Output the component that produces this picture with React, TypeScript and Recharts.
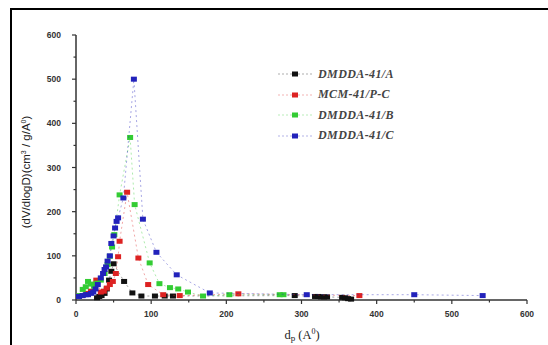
import React from "react";
import { ScatterChart, Scatter, XAxis, YAxis } from "recharts";

// pore size distribution
const seriesNames = ["DMDDA-41/A", "MCM-41/P-C", "DMDDA-41/B", "DMDDA-41/C"];
const seriesColors = ["#111111", "#dd2222", "#33cc33", "#2222bb"];

const blackX = [28, 31, 34, 38, 41, 44, 47, 50, 64, 75, 87, 105, 118, 129, 291, 318, 322, 326, 330, 334, 354, 358, 362, 366];
const blackY = [5, 8, 10, 15, 25, 45, 65, 82, 42, 16, 9, 9, 9, 9, 10, 8, 8, 7, 7, 7, 6, 5, 3, 2];

const redX = [8, 14, 20, 27, 33, 37, 41, 45, 49, 53, 56, 58, 68, 83, 96, 116, 138, 216, 377];
const redY = [10, 15, 20, 45, 18, 20, 27, 35, 42, 60, 98, 133, 244, 95, 35, 12, 10, 14, 10];

const greenX = [5, 9, 13, 16, 20, 24, 28, 33, 38, 42, 45, 48, 51, 58, 72, 78, 98, 111, 125, 136, 149, 169, 204, 271, 276];
const greenY = [10, 24, 30, 42, 36, 31, 38, 45, 60, 80, 99, 120, 148, 238, 368, 216, 84, 37, 28, 25, 18, 9, 12, 12, 12];

const blueX = [4, 9, 13, 16, 20, 23, 26, 29, 33, 36, 38, 40, 42, 45, 47, 50, 52, 54, 56, 63, 77, 89, 107, 134, 178, 307, 450, 541];
const blueY = [8, 10, 12, 12, 15, 18, 25, 35, 50, 60, 69, 75, 88, 100, 128, 145, 163, 178, 186, 231, 500, 183, 108, 57, 16, 12, 12, 10];

const xTicks = [0, 50, 100, 150, 200, 250, 300, 350, 400, 450, 500, 550, 600];
const yTicks = [0, 50, 100, 150, 200, 250, 300, 350, 400, 450, 500, 550, 600];

const pairs = (xs: number[], ys: number[]) => xs.map((x, i) => ({ x, y: ys[i] }));
const allSeries = [
  pairs(blackX, blackY),
  pairs(redX, redY),
  pairs(greenX, greenY),
  pairs(blueX, blueY),
];

const axisColor = "#333";
const tickFont = "'Liberation Sans', Arial, sans-serif";

const XTick = (props: any) => {
  const { x, y, payload } = props;
  const major = payload.value % 100 === 0;
  return (
    <g>
      <line x1={x} x2={x} y1={y} y2={y + (major ? 4 : 2.5)} stroke={axisColor} strokeWidth={1.2} />
      {major && (
        <text x={x} y={y + 17} textAnchor="middle" fontSize={8.5} fontWeight="bold" fill="#333" fontFamily={tickFont}>
          {payload.value}
        </text>
      )}
    </g>
  );
};

const YTick = (props: any) => {
  const { x, y, payload } = props;
  const major = payload.value % 100 === 0;
  return (
    <g>
      <line x1={x} x2={x - (major ? 4 : 2.5)} y1={y} y2={y} stroke={axisColor} strokeWidth={1.2} />
      {major && (
        <text x={x - 15} y={y + 3} textAnchor="end" fontSize={8.5} fontWeight="bold" fill="#333" fontFamily={tickFont}>
          {payload.value}
        </text>
      )}
    </g>
  );
};

const XTitle = () => (
  <text x={302} y={339} textAnchor="middle" fontSize={12.5} fill="#222" fontFamily="'Liberation Serif', serif">
    d<tspan fontSize={9} dy={2}>p</tspan>
    <tspan dy={-2}> (A</tspan>
    <tspan fontSize={8} dy={-5}>0</tspan>
    <tspan dy={5}>)</tspan>
  </text>
);

const YTitle = () => (
  <text
    transform="translate(30,172) rotate(-90)"
    textAnchor="middle"
    fontSize={11.5}
    fill="#222"
    fontFamily="'Liberation Sans', Arial, sans-serif"
  >
    (dV/dlogD)(cm<tspan fontSize={7} dy={-4}>3</tspan>
    <tspan dy={4}> / g/A</tspan>
    <tspan fontSize={7} dy={-4}>0</tspan>
    <tspan dy={4}>)</tspan>
  </text>
);

const square = (color: string) => (p: any) => (
  <rect x={p.cx - 3} y={p.cy - 2.5} width={6} height={5} fill={color} />
);

const LegendBox = () => (
  <div style={{ position: "absolute", left: 278, top: 64, display: "flex", flexDirection: "column" }}>
    {seriesNames.map((name, i) => (
      <div key={name} style={{ display: "flex", alignItems: "center", height: 20.5 }}>
        <svg width={34} height={10}>
          <line x1={0} x2={34} y1={5} y2={5} stroke={seriesColors[i]} strokeOpacity={0.35} strokeDasharray="2 2" />
          <rect x={14} y={2.5} width={6} height={5} fill={seriesColors[i]} />
        </svg>
        <span
          style={{
            marginLeft: 6,
            fontFamily: "'Liberation Serif', serif",
            fontStyle: "italic",
            fontWeight: "bold",
            fontSize: 12,
            color: "#444",
            letterSpacing: 0.4,
            whiteSpace: "nowrap",
          }}
        >
          {name}
        </span>
      </div>
    ))}
  </div>
);

export default function App() {
  return (
    <div style={{ position: "absolute", left: 0, top: 0, width: 548, height: 345, background: "#fff" }}>
      <div
        style={{
          position: "absolute",
          left: 10,
          top: 8,
          width: 540,
          height: 340,
          borderTop: "2px solid #000",
          borderLeft: "2px solid #000",
        }}
      />
      <ScatterChart width={548} height={345} margin={{ top: 35, right: 21, bottom: 15, left: 36 }}>
        <XAxis
          type="number"
          dataKey="x"
          domain={[0, 600]}
          ticks={xTicks}
          interval={0}
          tick={<XTick />}
          tickLine={false}
          tickSize={0}
          tickMargin={0}
          height={30}
          stroke={axisColor}
          strokeWidth={1.5}
          label={<XTitle />}
        />
        <YAxis
          type="number"
          dataKey="y"
          domain={[0, 600]}
          ticks={yTicks}
          interval={0}
          tick={<YTick />}
          tickLine={false}
          tickSize={0}
          tickMargin={0}
          width={40}
          stroke={axisColor}
          strokeWidth={1.5}
          label={<YTitle />}
        />
        {allSeries.map((data, i) => (
          <Scatter
            key={seriesNames[i]}
            name={seriesNames[i]}
            data={data}
            fill={seriesColors[i]}
            line={{ stroke: seriesColors[i], strokeOpacity: 0.4, strokeDasharray: "2 3", strokeWidth: 1 }}
            lineType="joint"
            shape={square(seriesColors[i])}
            isAnimationActive={false}
          />
        ))}
      </ScatterChart>
      <LegendBox />
    </div>
  );
}
